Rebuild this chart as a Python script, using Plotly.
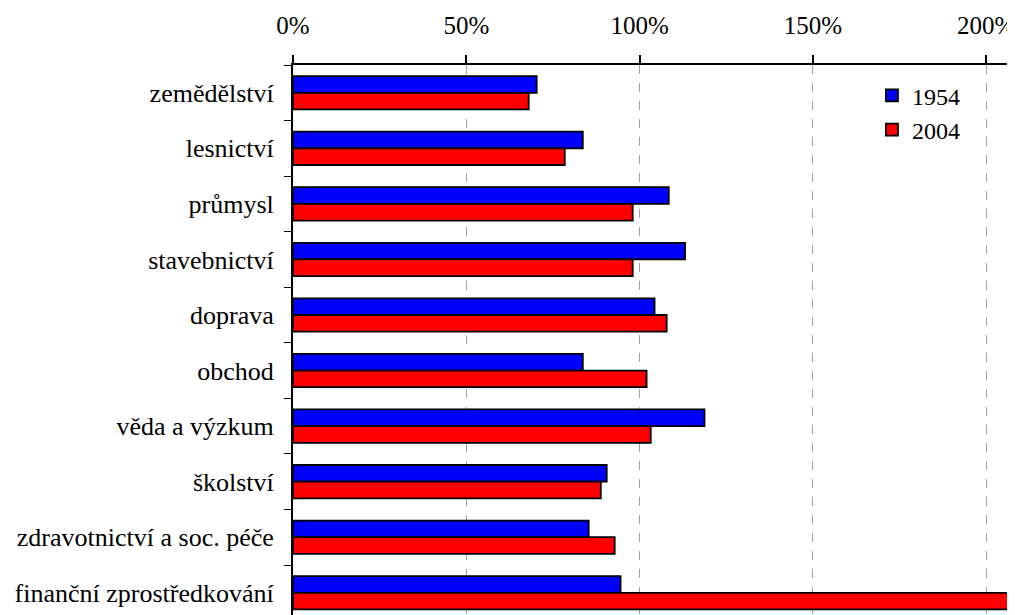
import plotly.graph_objects as go

# share of national average wage by sector (%)
sectors = [
    "zemědělství",
    "lesnictví",
    "průmysl",
    "stavebnictví",
    "doprava",
    "obchod",
    "věda a výzkum",
    "školství",
    "zdravotnictví a soc. péče",
    "finanční zprostředkování",
]
y1954 = [70.3, 83.6, 108.4, 113.1, 104.3, 83.6, 118.7, 90.5, 85.3, 94.5]
y2004 = [68.0, 78.4, 98.0, 98.0, 107.8, 102.0, 103.2, 88.8, 92.8, 207.5]

tick_vals = [0, 50, 100, 150, 200]
tick_text = ["0%", "50%", "100%", "150%", "200%"]

FONT = "Liberation Serif, Times New Roman, serif"

fig = go.Figure()
fig.add_trace(go.Bar(
    y=sectors, x=y1954, name="1954", orientation="h",
    marker=dict(color="#0000ff", line=dict(color="black", width=1.8)),
))
fig.add_trace(go.Bar(
    y=sectors, x=y2004, name="2004", orientation="h",
    marker=dict(color="#ff0000", line=dict(color="black", width=1.8)),
))

# the page body adds an 8px offset, so margins are shifted to compensate
fig.update_layout(
    width=1015, height=615,
    margin=dict(l=285, r=9, t=57, b=8),
    paper_bgcolor="white", plot_bgcolor="white",
    font=dict(family=FONT, size=26, color="black"),
    barmode="group", bargap=0.4, bargroupgap=0,
    showlegend=True,
    legend=dict(
        x=0.803, y=0.985, xanchor="left", yanchor="top",
        bgcolor="rgba(0,0,0,0)", font=dict(size=24),
        tracegroupgap=0, itemwidth=30,
    ),
)
fig.update_xaxes(
    side="top", range=[0, 208], automargin=False,
    tickvals=tick_vals, ticktext=tick_text, tickfont=dict(size=25),
    ticks="outside", ticklen=8, tickwidth=1.5, tickcolor="black",
    ticklabelstandoff=11,
    showline=True, linecolor="black", linewidth=2,
    showgrid=True, gridcolor="#a0a0a0", griddash="dash", gridwidth=1,
    zeroline=False,
)
fig.update_yaxes(
    range=[9.4, -0.5], automargin=False,
    ticks="outside", tickson="boundaries", ticklen=7, tickcolor="black",
    ticklabelstandoff=12,
    showline=True, linecolor="black", linewidth=2,
    showgrid=False,
)

fig.write_html("out.html")
